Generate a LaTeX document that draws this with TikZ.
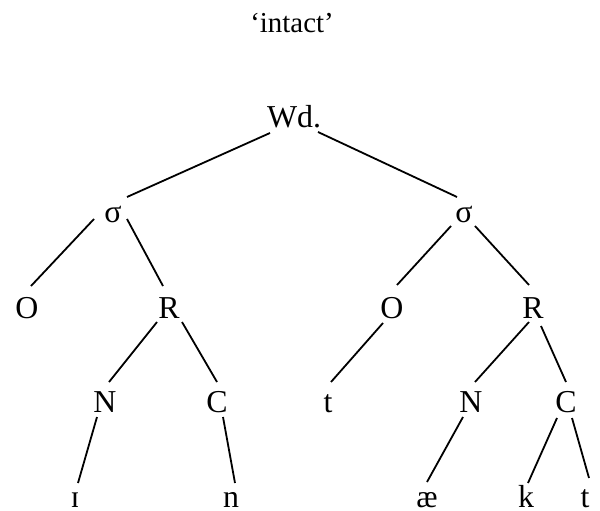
\documentclass[tikz,border=0pt]{standalone}
\usepackage{fontspec}
\setmainfont{Liberation Serif}
\begin{document}
\begin{tikzpicture}[x=1bp,y=-1bp,
  lbl/.style={anchor=base,inner sep=0pt,font=\fontsize{32}{38}\selectfont},
  ttl/.style={anchor=base,inner sep=0pt,font=\fontsize{29}{34}\selectfont},
  branch/.style={line width=1.8bp}]
\useasboundingbox (0,0) rectangle (600,511);

% gloss
\node[ttl] (gloss) at (292,33) {‘intact’};

% word and syllables
\node[lbl] (wd) at (294,128) {Wd.};
\node[lbl] (s1) at (113,223) {σ};
\node[lbl] (s2) at (464,223) {σ};

% onsets and rhymes
\node[lbl] (o1) at (27,318) {O};
\node[lbl] (r1) at (169,318) {R};
\node[lbl] (o2) at (392,318) {O};
\node[lbl] (r2) at (533,318) {R};

% nuclei and codas
\node[lbl] (n1) at (105,412) {N};
\node[lbl] (c1) at (217,412) {C};
\node[lbl] (t1) at (328,412) {t};
\node[lbl] (n2) at (471,412) {N};
\node[lbl] (c2) at (566,412) {C};

% segments
\node[lbl] (i1) at (75,507) {ɪ};
\node[lbl] (n3) at (231,507) {n};
\node[lbl] (ae) at (427,507) {æ};
\node[lbl] (k1) at (526,507) {k};
\node[lbl] (t2) at (585,507) {t};

% branches
\draw[branch] ([shift={(-24,5)}]wd.base) -- ([shift={(14,-26)}]s1.base);
\draw[branch] ([shift={(24,4)}]wd.base) -- ([shift={(-7,-26)}]s2.base);

\draw[branch] ([shift={(-19,-4)}]s1.base) -- ([shift={(4,-32)}]o1.base);
\draw[branch] ([shift={(14,-4)}]s1.base) -- ([shift={(-6,-32)}]r1.base);
\draw[branch] ([shift={(-13,3)}]s2.base) -- ([shift={(5,-33)}]o2.base);
\draw[branch] ([shift={(11,3)}]s2.base) -- ([shift={(-4,-33)}]r2.base);

\draw[branch] ([shift={(-12,4)}]r1.base) -- ([shift={(4,-30)}]n1.base);
\draw[branch] ([shift={(13,4)}]r1.base) -- ([shift={(0,-30)}]c1.base);
\draw[branch] ([shift={(-9,5)}]o2.base) -- ([shift={(3,-30)}]t1.base);
\draw[branch] ([shift={(-4,4)}]r2.base) -- ([shift={(4,-30)}]n2.base);
\draw[branch] ([shift={(8,8)}]r2.base) -- ([shift={(0,-30)}]c2.base);

\draw[branch] ([shift={(-8,5)}]n1.base) -- ([shift={(3,-24)}]i1.base);
\draw[branch] ([shift={(6,5)}]c1.base) -- ([shift={(4,-24)}]n3.base);
\draw[branch] ([shift={(-8,5)}]n2.base) -- ([shift={(0,-25)}]ae.base);
\draw[branch] ([shift={(-9,6)}]c2.base) -- ([shift={(2,-24)}]k1.base);
\draw[branch] ([shift={(6,6)}]c2.base) -- ([shift={(4,-29)}]t2.base);
\end{tikzpicture}
\end{document}
